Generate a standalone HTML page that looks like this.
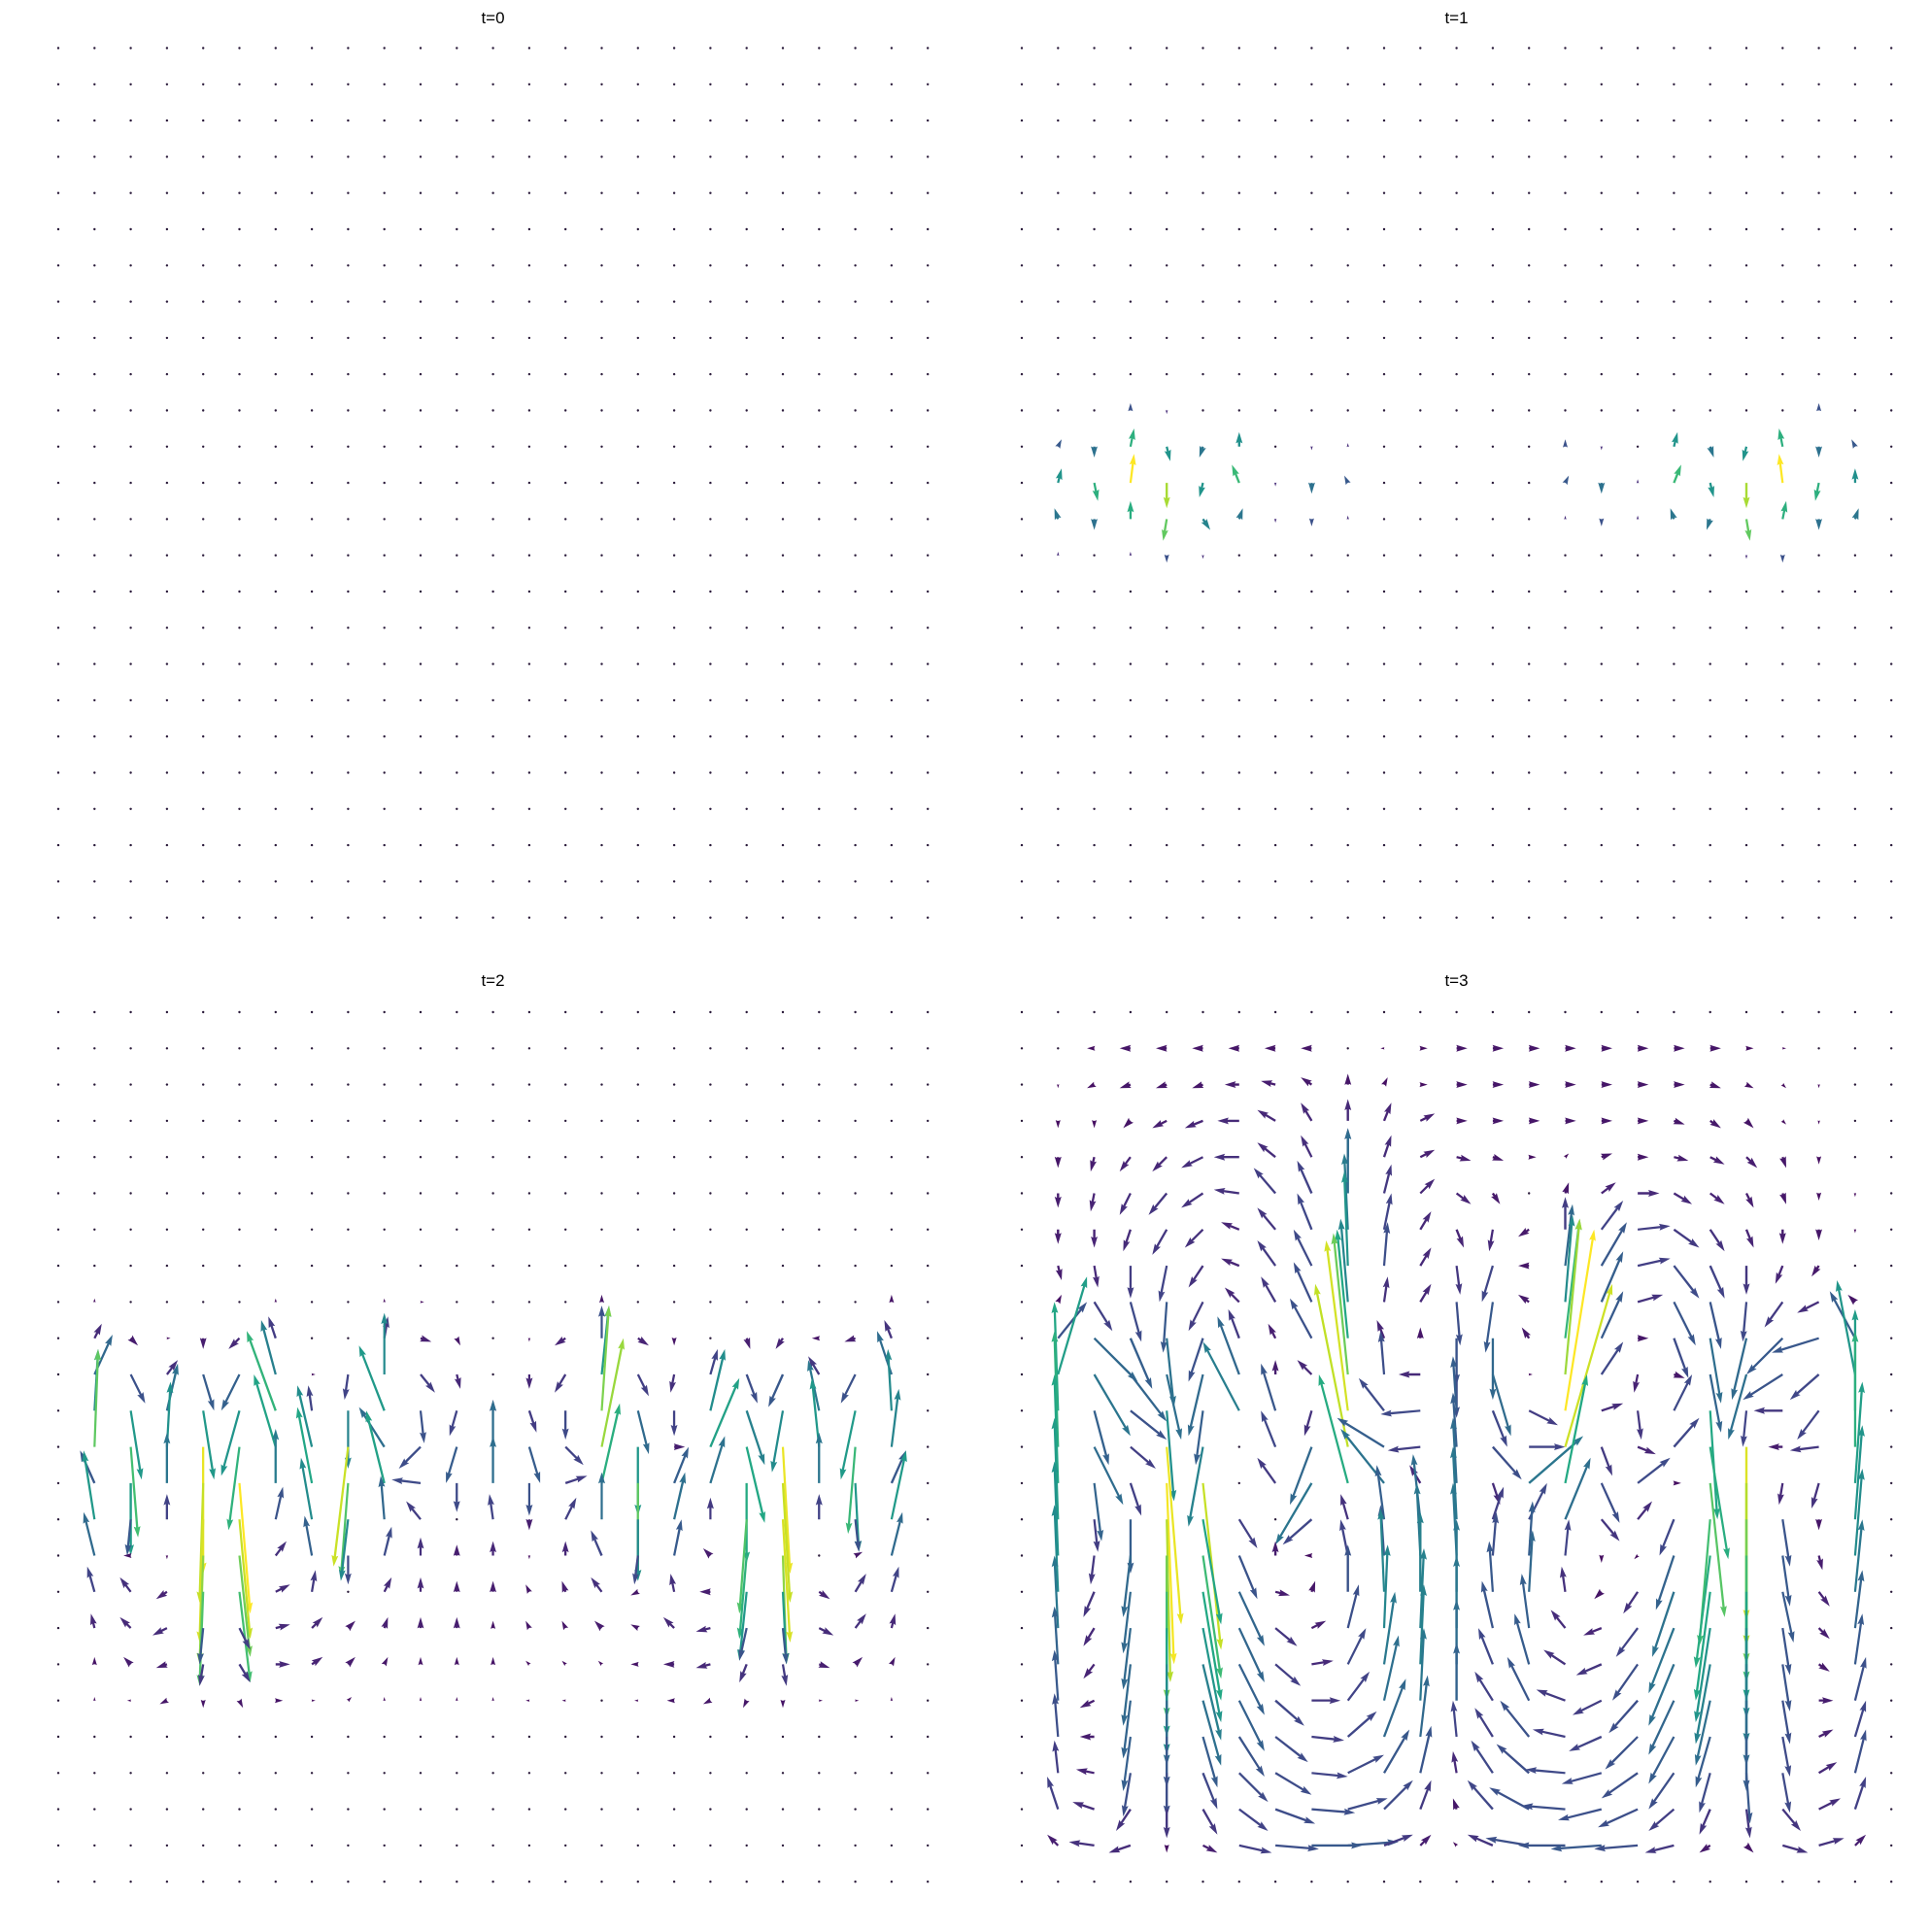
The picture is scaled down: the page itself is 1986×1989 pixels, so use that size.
<!DOCTYPE html>
<html><head><meta charset="utf-8">
<style>
html,body{margin:0;padding:0;background:#fff;}
svg{display:block;}
text{font-family:"Liberation Sans","DejaVu Sans",sans-serif;}
</style></head>
<body>
<svg id="chart" width="1986" height="1989" viewBox="0 0 1986 1989" xmlns="http://www.w3.org/2000/svg">
<rect x="0" y="0" width="1986" height="1989" fill="#fff"/>
<text x="507.5" y="24" font-size="17" text-anchor="middle" fill="#000">t=0</text>
<text x="1499.5" y="24" font-size="17" text-anchor="middle" fill="#000">t=1</text>
<text x="507.5" y="1015" font-size="17" text-anchor="middle" fill="#000">t=2</text>
<text x="1499.5" y="1015" font-size="17" text-anchor="middle" fill="#000">t=3</text>
<g id="p0"></g>
<g id="p1"></g>
<g id="p2"></g>
<g id="p3"></g>
</svg>
<script>
// Vector field per panel: 25 rows, each up to 25 "dx,dy" tokens (units: 0.1 grid cell, dy down). Missing = 0.
var T0 = [];
var T1 = [
"","","","","","","","","","",
"0 0 0 0,-2 0,1 0 0 0 0 0 0 0 0 0 0 0 0 0 0 0 0 0 0,-2 0 0",
"0 1,-2 0,3 1,-5 1,4 -1,3 0,-4 0 0,1 0,-1 0 0 0 0 0 0,-2 0,1 0 1,-4 1,3 -1,4 -1,-5 0,3 -1,-2 0",
"0 1,-4 1,5 1,-8 0,7 -1,4 -2,-5 0,1 0,3 -1,-2 0 0 0 0 0 1,-2 0,3 0,-1 2,-5 1,4 0,7 -1,-8 -1,5 0,-4 0",
"0 -1,-3 0,3 0,-5 -1,6 2,3 1,-3 0,1 0,2 0,-1 0 0 0 0 0 0,-1 0,2 0,-1 -1,-3 -1,3 1,6 1,-5 0,3 1,-3 0",
"0 0,-1 0 0,-1 0,2 0,1 0 0 0 0 0 0 0 0 0 0 0 0 0 0 0,1 0,2 0 0 0 0",
"","","","","","","","","",""
];
var T2 = [
"","","","","","","","",
"0 0,-1 0 0 0 0 0,-1 0 0 0,-1 1,0 0 0 0 0 0,-2 0 0 0 0 0 0 0 0,-2 0",
"0 2,-4 2,2 1,0 0,3 -3,3 -2,-6 0 0 1,-6 3,1 1,2 0 0,1 -3,2 0,-9 3,2 0,2 0 1,3 -2,3 -2,0 -3,1 -2,-5 0",
"0 5,-11 4,8 3,-4 3,10 -5,10 -4,-15 1,0 -1,7 0,-17 4,5 1,4 0 0,4 -3,5 2,-19 3,6 -1,5 2,-7 3,8 -4,9 -3,-5 -4,8 -4,-12 0",
"0 1,-17 3,19 3,-13 3,19 -5,18 -8,-22 -1,-7 0,16 -7,-18 1,9 -2,7 0,-3 2,6 0,8 2,-29 3,12 0,7 4,-17 5,15 -3,17 -3,-14 -4,19 -1,-17 0",
"0 1,-27 2,25 1,-18 0,35 -3,23 -6,-20 -4,-17 -4,33 -7,-11 -6,6 -3,10 0,-13 3,10 5,5 6,-30 0,19 3,0 8,-19 5,21 2,35 -2,-19 -2,24 2,-16 0",
"0 -4,-9 0,20 0,-14 -1,33 3,36 0,-15 -4,-21 -2,26 -5,-20 -8,-1 0,8 0,-13 0,9 6,-2 5,-22 0,27 4,-10 4,-13 0,22 2,33 0,-14 1,19 4,-9 0",
"0 -3,-19 -1,10 0,-7 -1,34 3,33 2,-9 -3,-17 -2,17 -1,-12 -4,-5 0 -1,-7 0,3 3,-6 0,-13 0,17 3,-13 0,-6 -2,26 2,34 0,-7 1,9 4,-19 0",
"0 -3,-12 -2,0 0,1 -1,30 3,28 3,-4 -2,-11 0,8 2,-8 0,-5 0,-3 0,-4 0,1 0,-4 -3,-7 -1,8 2,-10 -2,-2 -2,23 1,30 0 2,-1 3,-12 0",
"0 -2,-7 -3,-4 -3,2 -1,26 3,25 4,-2 1,-6 0 2,-4 0,-4 0,-3 0,-3 -1,-2 -1,-3 -3,-4 -2,1 -1,-5 -3,0 -2,19 1,20 3,2 3,-5 2,-7 0",
"0 -1,-4 -3,-3 -4,2 -1,10 3,6 4,-1 3,-3 2,-2 1,-3 0,-3 0,-3 0,-2 -1,-2 -1,-2 -2,-2 -2,-1 -3,-3 -4,1 -2,9 1,10 4,2 3,-4 1,-4 0",
"0 0,-2 -2,-2 -3,1 -1,6 3,5 4,0 3,-2 2,-2 1,-2 0,-2 0,-2 0,-2 -1,-1 -1,-1 -1,-1 -2,0 -3,0 -4,1 -2,5 1,6 3,1 2,-2 1,-2 0",
"0 0,-1 -1,0 -2,1 0,2 1,2 2,0 1,0 1,-1 0,-1 0,-1 0,-1 0,-1 -1,0 -1,0 0 -1,0 -2,0 -2,1 -1,2 0,2 1,0 1,0 0,-1 0",
"","","","",""
];
var T3 = [
"",
"0 0 -2,0 -3,0 -3,0 -3,0 -3,0 -3,0 -3,0 0 -1,0 2,0 3,0 3,0 3,0 3,0 3,0 3,0 3,0 3,0 2,0 1,0 0 0 0",
"0 0,1 -2,1 -3,1 -3,1 -3,1 -4,0 -4,-1 -3,-2 0,-3 1,-2 2,0 3,0 3,0 3,0 3,0 3,0 3,0 3,0 3,1 2,1 1,1 0,1 0 0",
"0 0,2 0,2 -2,2 -4,2 -5,2 -6,0 -5,-3 -3,-5 0,-6 2,-5 4,-2 3,0 3,0 3,0 3,0 3,0 3,0 3,1 3,2 2,2 1,1 0,1 0 0",
"0 0,3 -1,4 -3,4 -4,4 -6,3 -7,0 -5,-4 -3,-6 0,-8 2,-6 4,-2 4,1 3,1 2,0 1,-1 3,-1 3,0 4,1 4,2 3,3 1,3 0,2 0 0",
"0 0,4 -1,5 -3,6 -5,6 -6,4 -7,-1 -6,-7 -4,-9 0,-18 2,-8 4,-4 4,3 2,3 0 1,-3 4,-3 6,0 5,3 4,3 2,4 1,3 0,2 0,1 0",
"0 0,4 0,5 -2,6 -4,7 -5,5 -5,-2 -5,-6 -4,-10 -1,-21 2,-10 3,-5 2,5 -1,6 -3,2 0,-9 6,-8 9,-1 7,5 4,6 2,5 0,4 0,3 0,1 0",
"0 1,4 1,6 0,9 -2,10 -4,6 -5,-2 -5,-7 -5,-10 -1,-26 1,-12 3,-5 1,8 -3,10 -3,0 2,-17 7,-12 9,-2 7,9 4,9 0,8 -2,5 -2,3 0 0",
"0 1,-2 5,8 3,11 -1,14 -4,8 -4,-4 -4,-7 -5,-11 -2,-23 1,-7 3,-5 1,12 -2,14 -3,-2 2,-24 6,-14 7,-2 6,12 3,13 -1,11 -5,7 -6,3 -2,-2 0",
"0 8,-10 12,12 6,14 2,19 -4,12 -3,-8 -2,-4 -6,-11 -3,-30 -2,-5 0,-3 0,13 0,17 -2,-3 4,-33 6,-13 3,0 4,11 3,18 -4,17 -10,10 -13,4 -7,-13 0",
"0 8,-27 10,17 10,13 4,18 -4,17 -6,-16 0,-4 -4,-4 -4,-39 -1,-12 -6,0 0,12 5,17 1,0 4,-43 6,-9 -1,5 3,1 3,16 -5,18 -11,7 -8,7 -5,-26 0",
"0 -1,-30 4,15 10,8 2,25 -2,15 -10,-19 -4,-13 -2,7 -6,-47 -7,-9 -11,1 -1,-15 4,10 8,4 8,-50 6,-2 1,8 5,-10 2,30 -1,10 -8,0 -6,8 0,-28 0",
"0 -1,-32 8,16 7,6 4,49 -4,22 0 -4,-10 -6,16 -9,-45 -13,-8 -9,1 -1,-15 8,9 10,0 13,-45 3,8 5,2 7,-8 5,31 0,48 -4,0 -8,1 0,-32 0",
"0 -1,-30 2,16 3,9 2,50 5,46 0 -5,-7 -10,17 -8,-30 -12,-15 -3,-5 -1,-18 2,6 15,-13 6,-30 5,11 9,-7 2,0 4,37 0,45 -1,6 -2,7 2,-28 0",
"0 -1,-28 1,9 0,15 1,45 5,29 5,8 0 -8,7 -2,-7 -2,-15 -2,-18 -1,-20 3,-9 5,-10 7,-17 5,6 4,-5 -4,10 -3,35 0,40 2,13 0,3 2,-26 0",
"0 -1,-26 -1,8 -2,17 0,40 5,34 5,12 0,-4 -2,0 -2,-10 -1,-14 -1,-20 -1,-20 1,-12 1,-15 1,-10 0,2 -1,1 -5,15 -4,31 0,35 2,14 1,4 2,-24 0",
"0 -1,-24 -3,7 -2,17 0,35 5,30 7,15 4,1 1,-3 0,-13 -1,-23 0,-22 0,-20 -1,-14 1,-17 -1,-7 -2,2 -4,6 -6,18 -4,30 0,30 3,14 3,4 2,-20 0",
"0 -1,-20 -3,5 -2,17 0,30 5,26 7,15 6,5 4,-2 3,-12 1,-23 1,-22 0,-20 -3,-13 -2,-15 -4,-5 -5,2 -6,8 -7,18 -4,26 0,25 2,13 3,3 2,-16 0",
"0 -1,-16 -3,4 -2,17 0,25 5,21 7,14 7,6 6,-1 5,-10 3,-20 1,-22 0,-18 -4,-10 -4,-14 -6,-4 -7,3 -7,10 -7,17 -4,22 0,22 2,13 3,2 2,-14 0",
"0 -1,-14 -4,2 -2,16 0,18 5,18 7,14 8,7 8,0 6,-8 4,-18 1,-20 0,-16 -5,-8 -6,-12 -8,-3 -8,4 -8,9 -7,15 -4,18 0,18 2,12 4,0 3,-12 0",
"0 -1,-12 -4,0 -2,15 0,14 4,14 7,11 9,7 9,1 8,-7 6,-16 2,-17 -1,-10 -5,-8 -8,-10 -9,-2 -9,4 -9,9 -7,13 -4,14 0,15 2,11 4,-2 3,-10 0",
"0 -1,-9 -5,-1 -2,12 0,12 4,10 8,8 10,6 10,1 10,-5 7,-12 3,-13 -1,-6 -6,-9 -9,-8 -11,-1 -11,3 -10,7 -7,10 -3,11 1,14 2,11 5,-3 3,-12 0",
"0 -3,-9 -6,-2 -4,6 0,8 4,7 8,6 11,4 12,1 11,-3 8,-8 3,-8 -1,-3 -7,-8 -11,-6 -12,-1 -12,3 -11,5 -7,6 -3,7 1,8 5,6 6,-3 3,-9 0",
"0 -3,-3 -7,-1 -6,2 0,2 4,2 9,2 12,1 14,0 14,-1 8,-3 3,-3 -1,-1 -7,-3 -12,-2 -13,0 -14,1 -12,1 -8,2 -3,2 2,2 7,2 7,-2 3,-3 0",
""
];

var STEP = 37.3;          // grid spacing px
var UNIT = STEP / 10;     // one data unit = 0.1 cell
var panels = [
  {id:'p0', x0:60,   y0:49.5, data:T0},
  {id:'p1', x0:1052, y0:49.5, data:T1},
  {id:'p2', x0:60,   y0:1042, data:T2},
  {id:'p3', x0:1052, y0:1042, data:T3}
];
var VIR = [[68,1,84],[72,36,117],[65,68,135],[53,95,141],[42,120,142],[33,145,140],[34,168,132],[68,191,112],[122,209,81],[189,223,38],[253,231,37]];
function viridis(t){
  t = Math.max(0, Math.min(1, t));
  var f = t * 10, i = Math.min(9, Math.floor(f)), r = f - i;
  var a = VIR[i], b = VIR[i+1];
  return 'rgb(' + Math.round(a[0]+(b[0]-a[0])*r) + ',' + Math.round(a[1]+(b[1]-a[1])*r) + ',' + Math.round(a[2]+(b[2]-a[2])*r) + ')';
}
function parse(data){
  var g = [];
  for (var r = 0; r < 25; r++){
    var row = [], toks = (data[r] || '').trim().split(/\s+/);
    for (var c = 0; c < 25; c++){
      var t = toks[c] || '0';
      var p = t.split(',');
      row.push([parseFloat(p[0]) || 0, parseFloat(p[1]) || 0]);
    }
    g.push(row);
  }
  return g;
}
var NS = 'http://www.w3.org/2000/svg';
var W = 2.3, HL = 5 * W, HW = 3 * W, HAL = 4.5 * W;
panels.forEach(function(P, pi){
  var grp = document.getElementById(P.id);
  var g = parse(P.data);
  var maxM = 0;
  g.forEach(function(row){ row.forEach(function(v){ maxM = Math.max(maxM, Math.hypot(v[0], v[1])); }); });
  for (var r = 0; r < 25; r++){
    for (var c = 0; c < 25; c++){
      var x = P.x0 + c * STEP, y = P.y0 + r * STEP;
      var v = g[r][c];
      var dx = v[0] * UNIT, dy = v[1] * UNIT;
      var L = Math.hypot(dx, dy);
      var m = Math.hypot(v[0], v[1]);
      var col = maxM > 0 ? viridis(m / maxM) : viridis(0);
      if (L < 1.5){
        var dot = document.createElementNS(NS, 'circle');
        dot.setAttribute('cx', x.toFixed(1));
        dot.setAttribute('cy', y.toFixed(1));
        dot.setAttribute('r', '1.2');
        dot.setAttribute('fill', L > 0 ? col : '#2a1a3a');
        
        
        grp.appendChild(dot);
        continue;
      }
      var pts;
      if (L >= HAL){
        pts = [[0,-W/2],[L-HAL,-W/2],[L-HL,-HW/2],[L,0],[L-HL,HW/2],[L-HAL,W/2],[0,W/2]];
      } else {
        var s = L / HAL;
        pts = [[0,-W/2*s],[(HAL-HL)*s,-HW/2*s],[L,0],[(HAL-HL)*s,HW/2*s],[0,W/2*s]];
      }
      var ang = Math.atan2(dy, dx), ca = Math.cos(ang), sa = Math.sin(ang);
      var str = pts.map(function(p){ return (x + p[0]*ca - p[1]*sa).toFixed(1) + ',' + (y + p[0]*sa + p[1]*ca).toFixed(1); }).join(' ');
      var poly = document.createElementNS(NS, 'polygon');
      poly.setAttribute('points', str);
      poly.setAttribute('fill', col);
      
      
      grp.appendChild(poly);
    }
  }
});
</script>
</body></html>
